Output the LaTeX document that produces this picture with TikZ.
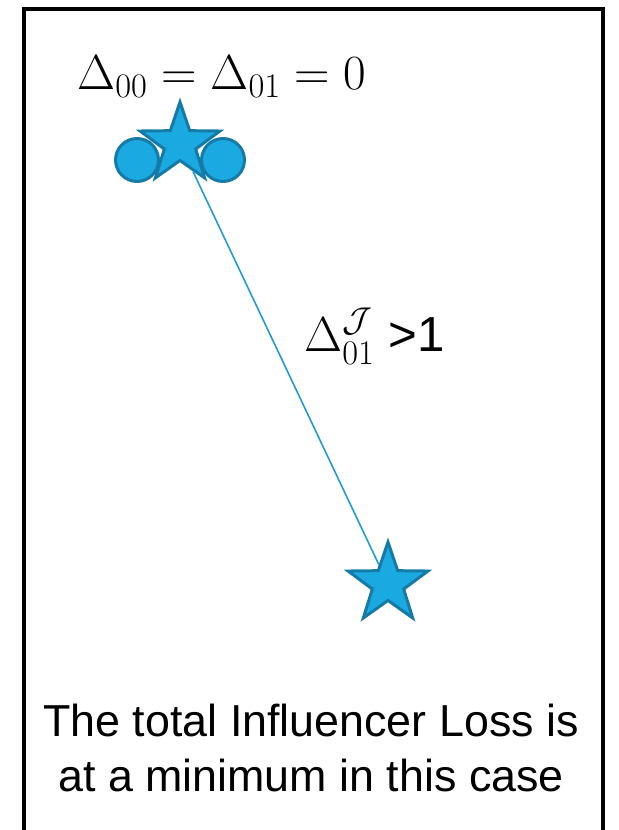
\RequirePackage{fix-cm}
\documentclass[tikz,border=0pt]{standalone}
\usepackage{amsmath}
\usepackage{fontspec}
\setmainfont{Liberation Sans}
\usepackage{tikz}
\usetikzlibrary{shapes.geometric, positioning}
\definecolor{cFill}{RGB}{27,169,225}
\definecolor{cEdge}{RGB}{22,122,166}
\definecolor{cLink}{RGB}{30,155,215}
\tikzset{
	pstar/.style ={star, star points=5, star point ratio=2.55, minimum size=1.68cm, inner sep=0pt, fill=cFill, draw=cEdge, line width=1.7pt},
	pdot/.style  ={circle, minimum size=0.86cm, inner sep=0pt, fill=cFill, draw=cEdge, line width=1.7pt},
	link/.style  ={draw=cLink, line width=0.9pt},
	lbl/.style   ={font=\fontsize{28}{33}\selectfont, inner sep=0pt},
}

\begin{document}
\begin{tikzpicture}[x=0.02cm, y=-0.02cm,
			capt/.style={align=center, font=\fontsize{25.5}{31.2}\selectfont, inner sep=0pt}]
			\useasboundingbox (0,0) rectangle (618,830);
			% frame, open at the bottom
			\draw[line width=2.3pt] (24,845) |- (603,9) -- (603,845);
			\node[pdot] (c0) at (137,160) {};
			\node[pdot] (c1) at (223,160) {};
			\node[pstar] (s0) at (180,144) {};
			\node[pstar] (s1) at (388,584) {};
			\draw[link] (s0) -- (s1);
			\node[lbl, anchor=base west] (d0) at (77,90) {$\Delta_{00} = \Delta_{01} = 0$};
			\node[lbl, anchor=base west] (d1) at (304,352) {$\Delta_{01}^{\mathcal{J}}$ {\fontsize{28}{33}\selectfont >1}};
			\node[capt] (cap) at (311,748) {The total Influencer Loss is\\ at a minimum in this case};
		\end{tikzpicture}
\end{document}
